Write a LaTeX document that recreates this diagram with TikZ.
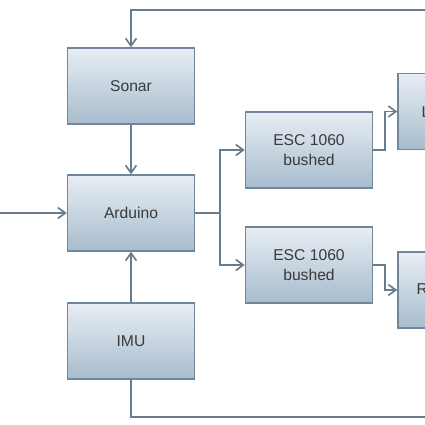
\documentclass[tikz,border=0pt]{standalone}
\usepackage{fontspec}
\setmainfont{Liberation Sans}
\usepackage{xcolor}
\usetikzlibrary{arrows.meta,positioning}
\definecolor{boxtop}{HTML}{E8EEF4}
\definecolor{boxbot}{HTML}{A7BCCD}
\definecolor{boxline}{HTML}{71869A}
\definecolor{wire}{HTML}{677C8E}
\definecolor{txt}{HTML}{3A3A3A}

\begin{document}
\begin{tikzpicture}[
  x=0.6pt, y=-0.6pt,
  every node/.style={font=\fontsize{9.4}{12}\selectfont, text=txt},
  block/.style={draw=boxline, line width=0.9pt, top color=boxtop, bottom color=boxbot, minimum width=76.2pt, minimum height=45.6pt, inner sep=0pt, align=center},
  arr/.style={-{Straight Barb[length=4.5pt,width=6.5pt]}, wire, line width=1pt},
  wireline/.style={wire, line width=1pt}
]
\useasboundingbox (0,0) rectangle (425,425);
\clip (0,0) rectangle (425,425);

\node[block] (sonar) at (131,86) {Sonar};
\node[block] (arduino) at (131,213) {Arduino};
\node[block] (imu) at (131,341) {IMU};
\node[block] (esc1) at (309,150) {ESC 1060\\bushed};
\node[block] (esc2) at (309,265) {ESC 1060\\bushed};
\node[block, minimum width=70.8pt] (motl) at (457,111.5) {Left Motor};
\node[block, minimum width=70.8pt] (motr) at (457,290) {Right Motor};

\coordinate (in) at (0,213);
\coordinate (split) at (220,213);
\coordinate (topend) at (440,10);
\coordinate (botend) at (440,417);

\draw[arr] (in) -- (arduino);
\draw[arr] (sonar) -- (arduino);
\draw[arr] (imu) -- (arduino);
\draw[wireline] (arduino) -- (split);
\draw[arr] (split) |- (esc1);
\draw[arr] (split) |- (esc2);
\draw[arr] (esc1.east) -- ++(12,0) |- (motl);
\draw[arr] (esc2.east) -- ++(12,0) |- (motr);
\draw[arr] (topend) -| (sonar);
\draw[wireline] (imu) |- (botend);
\end{tikzpicture}
\end{document}
